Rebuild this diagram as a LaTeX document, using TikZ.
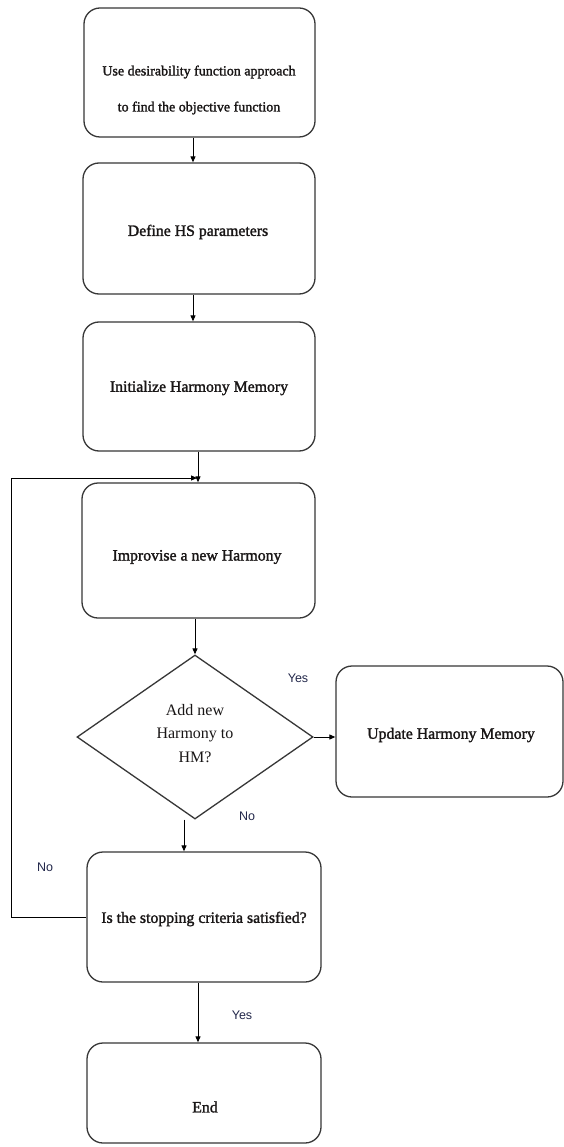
\documentclass[tikz,border=0pt]{standalone}
\usepackage{fontspec}
\setmainfont{Liberation Serif}
\newfontfamily\boxfont[FakeBold=1.6]{Liberation Serif}
\newfontfamily\labfont{Liberation Sans}
\usetikzlibrary{shapes.geometric,arrows.meta}
\definecolor{linec}{RGB}{55,55,55}
\definecolor{textc}{RGB}{25,22,22}
\definecolor{labc}{RGB}{35,40,75}
\begin{document}
\begin{tikzpicture}[x=1pt,y=-1pt,
 box/.style={draw=linec,line width=1.3pt,rounded corners=16pt,inner sep=0pt},
 dec/.style={diamond,draw=linec,line width=1.3pt,inner sep=0pt,minimum width=236pt,minimum height=164pt},
 txt/.style={font=\boxfont\fontsize{15.8}{20}\selectfont,text=textc,align=center,inner sep=0pt},
 dtxt/.style={font=\rmfamily\fontsize{16}{23.5}\selectfont,text=textc,align=center,inner sep=0pt},
 lab/.style={font=\labfont\fontsize{12.5}{14}\selectfont,text=labc,inner sep=0pt},
 conn/.style={draw=black,line width=1pt,-{Triangle[length=6pt,width=5pt]}}]
\fill[white] (0,0) rectangle (564,1147);
\useasboundingbox (0,0) rectangle (564,1147);

% boxes
\node[box,minimum width=231pt,minimum height=129pt] (b1) at (199.5,72.5) {};
\node[box,minimum width=232pt,minimum height=131pt] (b2) at (199,228.5) {};
\node[box,minimum width=232pt,minimum height=129pt] (b3) at (199,386.5) {};
\node[box,minimum width=233pt,minimum height=135pt] (b4) at (198.5,550.5) {};
\node[dec] (d) at (195,737) {};
\node[box,minimum width=227pt,minimum height=131pt] (up) at (449.5,731.5) {};
\node[box,minimum width=234pt,minimum height=130pt] (b5) at (204,917) {};
\node[box,minimum width=234pt,minimum height=100pt] (b6) at (204,1093) {};

% texts
\node[txt,font=\boxfont\fontsize{14}{36}\selectfont] (t1) at (199,90) {Use desirability function approach\\to find the objective function};
\node[txt] (t2) at (198,232) {Define HS parameters};
\node[txt] (t3) at (199,388) {Initialize Harmony Memory};
\node[txt] (t4) at (197,557) {Improvise a new Harmony};
\node[dtxt] (td) at (195,733.5) {Add new\\Harmony to\\HM?};
\node[txt] (tu) at (451,735) {Update Harmony Memory};
\node[txt] (t5) at (204,919) {Is the stopping criteria satisfied?};
\node[txt] (t6) at (205,1107) {End};

% labels
\node[lab] (yes1) at (298,678) {Yes};
\node[lab] (no1) at (247,816) {No};
\node[lab] (no2) at (45,867) {No};
\node[lab] (yes2) at (242,1015) {Yes};

% connectors
\draw[conn] ([xshift=-6.5pt]b1.south) -- ([xshift=-6.5pt]b1.south |- b2.north);
\draw[conn] ([xshift=-6pt]b2.south) -- ([xshift=-6pt]b2.south |- b3.north);
\draw[conn] ([xshift=-1pt]b3.south) -- ([xshift=-1pt]b3.south |- b4.north);
\draw[conn] ([xshift=-3.5pt]b4.south) -- (d.north);
\draw[conn] (d.east) -- (d.east -| up.west);
\draw[conn] ([xshift=-11pt]d.south) -- ([xshift=-11pt]d.south |- b5.north);
\draw[conn] ([xshift=-6pt]b5.south) -- ([xshift=-6pt]b6.north);
\coordinate (lc) at (11,917);
\coordinate (j) at (197,478);
\draw[conn] (b5.west) -- (lc) |- (j);
\end{tikzpicture}
\end{document}
